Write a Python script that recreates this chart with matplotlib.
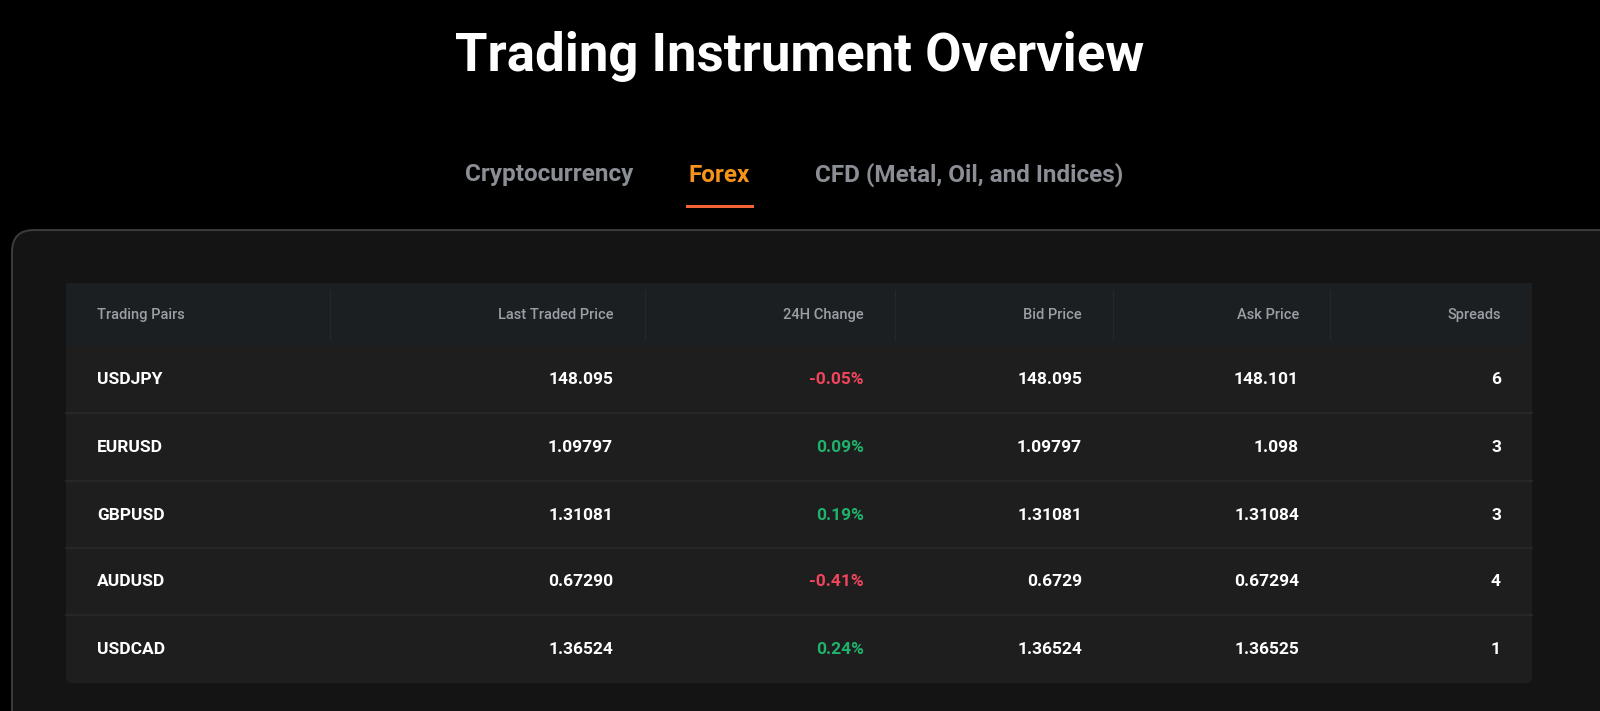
import matplotlib
matplotlib.use("Agg")
import matplotlib.pyplot as plt
from matplotlib.patches import FancyBboxPatch, Rectangle

plt.rcParams['font.family'] = ['Roboto', 'DejaVu Sans']

title = "Trading Instrument Overview"
tabs = ["Cryptocurrency", "Forex", "CFD (Metal, Oil, and Indices)"]
active_tab = "Forex"
columns = ["Trading Pairs", "Last Traded Price", "24H Change", "Bid Price", "Ask Price", "Spreads"]
pairs = ["USDJPY", "EURUSD", "GBPUSD", "AUDUSD", "USDCAD"]
last_price = ["148.095", "1.09797", "1.31081", "0.67290", "1.36524"]
change = ["-0.05%", "0.09%", "0.19%", "-0.41%", "0.24%"]
bid = ["148.095", "1.09797", "1.31081", "0.6729", "1.36524"]
ask = ["148.101", "1.098", "1.31084", "0.67294", "1.36525"]
spreads = ["6", "3", "3", "4", "1"]

W, H = 1600, 711
fig = plt.figure(figsize=(16, 7.11), dpi=100)
fig.patch.set_facecolor("black")
ax = fig.add_axes([0, 0, 1, 1])
ax.set_xlim(0, W); ax.set_ylim(H, 0); ax.axis("off")

ax.text(800, 57, title, ha="center", va="center", color="white", fontsize=38, fontweight="bold")
tab_x = [549, 719, 969]
for t, x in zip(tabs, tab_x):
    c = "#f7931a" if t == active_tab else "#8b8f95"
    ax.text(x, 175, t, ha="center", va="center", color=c, fontsize=17.5, fontweight="bold")
ax.add_patch(Rectangle((686, 205), 68, 3, color="#f4623a", lw=0))

ax.add_patch(FancyBboxPatch((12, 230), 1700, 600, boxstyle="round,pad=0,rounding_size=22",
                            fc="#141414", ec="#3a3a3a", lw=1.5))
ax.add_patch(FancyBboxPatch((66, 283), 1466, 400, boxstyle="round,pad=0,rounding_size=6",
                            fc="#1e1e1e", ec="none"))
ax.add_patch(Rectangle((66, 283), 1466, 63, fc="#1b1f22", ec="none"))
for x in [330, 645, 895, 1113, 1330]:
    ax.plot([x, x], [290, 340], color="#23282c", lw=1)

col_x = [97, 613, 864, 1082, 1299, 1501]
for i, (c, x) in enumerate(zip(columns, col_x)):
    ax.text(x, 315, c, ha="left" if i == 0 else "right", va="center", color="#9aa0a6",
            fontsize=10.5, fontweight="medium")

row_y = [379, 447, 515, 582, 650]
for y in [413, 481, 548, 615]:
    ax.plot([66, 1532], [y, y], color="#2a2a2a", lw=1.2)
for r, y in enumerate(row_y):
    vals = [pairs[r], last_price[r], change[r], bid[r], ask[r], spreads[r]]
    for i, (v, x) in enumerate(zip(vals, col_x)):
        col = "white"
        if i == 2:
            col = "#f0455a" if v.startswith("-") else "#20b26c"
        ax.text(x, y, v, ha="left" if i == 0 else "right", va="center", color=col,
                fontsize=12.5, fontweight="bold")

fig.savefig("out.png", dpi=100, facecolor="black")
